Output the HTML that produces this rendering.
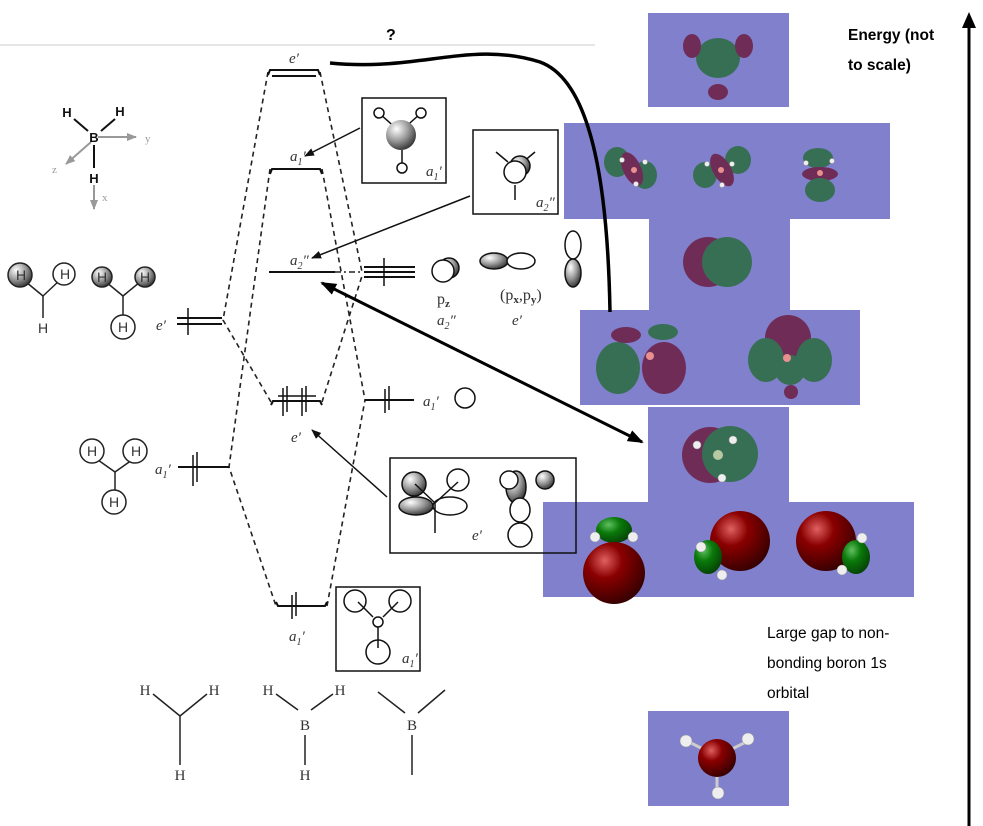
<!DOCTYPE html>
<html><head><meta charset="utf-8"><style>
html,body{margin:0;padding:0;background:#fff;}
svg{display:block;}
.it{font-family:"Liberation Serif",serif;font-style:italic;fill:#333;}
.rm{font-family:"Liberation Serif",serif;fill:#333;}
.ss{font-family:"Liberation Sans",sans-serif;}
</style></head><body>
<svg width="983" height="826" viewBox="0 0 983 826" xmlns="http://www.w3.org/2000/svg">
<defs>
<radialGradient id="gs" cx="0.35" cy="0.3" r="0.8"><stop offset="0" stop-color="#fff"/><stop offset="0.5" stop-color="#999"/><stop offset="1" stop-color="#222"/></radialGradient>
<radialGradient id="red" cx="0.35" cy="0.3" r="0.8"><stop offset="0" stop-color="#e06060"/><stop offset="0.35" stop-color="#8a0000"/><stop offset="1" stop-color="#2a0000"/></radialGradient>
<radialGradient id="grn" cx="0.35" cy="0.3" r="0.8"><stop offset="0" stop-color="#60c060"/><stop offset="0.4" stop-color="#0a7a0a"/><stop offset="1" stop-color="#053a05"/></radialGradient>
<marker id="ah" markerWidth="10" markerHeight="8" refX="9" refY="4" orient="auto" markerUnits="userSpaceOnUse"><path d="M0,0 L10,4 L0,8 z" fill="#111"/></marker>
<marker id="ahb" markerWidth="16" markerHeight="12" refX="14" refY="6" orient="auto-start-reverse" markerUnits="userSpaceOnUse"><path d="M0,0 L16,6 L0,12 z" fill="#000"/></marker>
<marker id="ahg" markerWidth="10" markerHeight="8" refX="9" refY="4" orient="auto" markerUnits="userSpaceOnUse"><path d="M0,0 L10,4 L0,8 z" fill="#999"/></marker>
</defs>

<line x1="0" y1="45" x2="595" y2="45" stroke="#ddd" stroke-width="1.5"/>
<text x="386" y="40" class="ss" font-weight="bold" font-size="16">?</text>

<g fill="#8080cc">
<rect x="648" y="13" width="141" height="94"/>
<rect x="564" y="123" width="326" height="96"/>
<rect x="649" y="218" width="141" height="93"/>
<rect x="580" y="310" width="280" height="95"/>
<rect x="648" y="407" width="141" height="96"/>
<rect x="543" y="502" width="371" height="95"/>
<rect x="648" y="711" width="141" height="95"/>
</g>

<g opacity="0.75">
<ellipse cx="718" cy="58" rx="22" ry="20" fill="#1f6a2c"/>
<ellipse cx="692" cy="46" rx="9" ry="12" fill="#6a1030"/>
<ellipse cx="744" cy="46" rx="9" ry="12" fill="#6a1030"/>
<ellipse cx="718" cy="92" rx="10" ry="8" fill="#6a1030"/>
<ellipse cx="617" cy="162" rx="13" ry="15" fill="#1f6a2c"/>
<ellipse cx="645" cy="175" rx="12" ry="14" fill="#1f6a2c"/>
<ellipse cx="632" cy="169" rx="9" ry="18" fill="#6a1030" transform="rotate(-25 632 169)"/>
<ellipse cx="705" cy="175" rx="12" ry="13" fill="#1f6a2c"/>
<ellipse cx="738" cy="160" rx="13" ry="14" fill="#1f6a2c"/>
<ellipse cx="722" cy="170" rx="9" ry="18" fill="#6a1030" transform="rotate(-30 722 170)"/>
<ellipse cx="818" cy="158" rx="15" ry="10" fill="#1f6a2c"/>
<ellipse cx="820" cy="174" rx="18" ry="7" fill="#6a1030"/>
<ellipse cx="820" cy="190" rx="15" ry="12" fill="#1f6a2c"/>
<circle cx="708" cy="262" r="25" fill="#6a1030"/>
<ellipse cx="727" cy="262" rx="25" ry="25" fill="#1f6a2c"/>
<ellipse cx="618" cy="368" rx="22" ry="26" fill="#1f6a2c"/>
<ellipse cx="664" cy="368" rx="22" ry="26" fill="#6a1030"/>
<ellipse cx="626" cy="335" rx="15" ry="8" fill="#6a1030"/>
<ellipse cx="663" cy="332" rx="15" ry="8" fill="#1f6a2c"/>
<circle cx="788" cy="338" r="23" fill="#6a1030"/>
<ellipse cx="766" cy="360" rx="18" ry="22" fill="#1f6a2c"/>
<ellipse cx="814" cy="360" rx="18" ry="22" fill="#1f6a2c"/>
<ellipse cx="790" cy="370" rx="15" ry="15" fill="#1f6a2c"/>
<circle cx="791" cy="392" r="7" fill="#6a1030"/>
<circle cx="710" cy="455" r="28" fill="#6a1030"/>
<circle cx="730" cy="454" r="28" fill="#1f6a2c"/>
</g>
<g>
<ellipse cx="614" cy="530" rx="18" ry="13" fill="url(#grn)"/>
<circle cx="614" cy="573" r="31" fill="url(#red)"/>
<circle cx="740" cy="541" r="30" fill="url(#red)"/>
<ellipse cx="708" cy="557" rx="14" ry="17" fill="url(#grn)"/>
<circle cx="826" cy="541" r="30" fill="url(#red)"/>
<ellipse cx="856" cy="557" rx="14" ry="17" fill="url(#grn)"/>
<line x1="687" y1="741" x2="715" y2="755" stroke="#ccc" stroke-width="3"/>
<line x1="748" y1="741" x2="720" y2="755" stroke="#ccc" stroke-width="3"/>
<line x1="717" y1="792" x2="717" y2="760" stroke="#ccc" stroke-width="3"/>
<circle cx="717" cy="758" r="19" fill="url(#red)"/>
</g>
<g fill="#eee" stroke="#999" stroke-width="0.5">
<circle cx="686" cy="741" r="6"/><circle cx="748" cy="739" r="6"/><circle cx="718" cy="793" r="6"/>
<circle cx="595" cy="537" r="5"/><circle cx="633" cy="537" r="5"/>
<circle cx="701" cy="547" r="5"/><circle cx="722" cy="575" r="5"/>
<circle cx="862" cy="538" r="5"/><circle cx="842" cy="570" r="5"/>
<circle cx="622" cy="160" r="2.5"/><circle cx="645" cy="162" r="2.5"/><circle cx="636" cy="184" r="2.5"/>
<circle cx="707" cy="164" r="2.5"/><circle cx="732" cy="164" r="2.5"/><circle cx="722" cy="185" r="2.5"/>
<circle cx="806" cy="163" r="2.5"/><circle cx="832" cy="161" r="2.5"/>
<circle cx="697" cy="445" r="4"/><circle cx="733" cy="440" r="4"/><circle cx="722" cy="478" r="4"/>
</g>
<g fill="#e89090"><circle cx="634" cy="170" r="3"/><circle cx="721" cy="170" r="3"/><circle cx="820" cy="173" r="3"/><circle cx="650" cy="356" r="4"/><circle cx="787" cy="358" r="4"/><circle cx="718" cy="455" r="5" fill="#b8c8a0"/></g>

<path d="M330,63 C420,72 470,40 540,62 C595,82 608,200 610,312" fill="none" stroke="#000" stroke-width="3.5"/>

<line x1="969" y1="826" x2="969" y2="26" stroke="#000" stroke-width="3"/>
<path d="M969,12 L962,28 L976,28 z" fill="#000"/>
<text x="848" y="40" class="ss" font-weight="bold" font-size="15.5">Energy (not</text>
<text x="848" y="70" class="ss" font-weight="bold" font-size="15.5">to scale)</text>
<text x="767" y="638" class="ss" font-size="15.5">Large gap to non-</text>
<text x="767" y="668" class="ss" font-size="15.5">bonding boron 1s</text>
<text x="767" y="698" class="ss" font-size="15.5">orbital</text>

<g stroke="#222" stroke-width="1.6" stroke-dasharray="5,4" fill="none">
<path d="M268,72 L223,320 L271,402"/>
<path d="M270,169 L229,467 L276,606"/>
<path d="M320,72 L362,272"/>
<path d="M322,169 L365,400"/>
<path d="M322,402 L362,276"/>
<path d="M327,606 L365,400"/>
</g>
<line x1="335" y1="272" x2="362" y2="272" stroke="#222" stroke-width="1.4" stroke-dasharray="6,3,2,3"/>

<g stroke="#111" stroke-width="2" fill="none">
<path d="M268,75 L270,70 L318,70 L320,75"/>
<line x1="272" y1="76" x2="316" y2="76"/>
<path d="M270,174 L272,169 L320,169 L322,174"/>
<line x1="269" y1="272" x2="335" y2="272"/>
<path d="M271,405 L273,401 L320,401 L322,405"/>
<path d="M276,602 L278,606 L325,606 L327,602"/>
<line x1="177" y1="318" x2="222" y2="318"/><line x1="177" y1="324" x2="222" y2="324"/>
<line x1="178" y1="467" x2="229" y2="467"/>
<line x1="364" y1="267" x2="415" y2="267"/><line x1="364" y1="272" x2="415" y2="272"/><line x1="364" y1="277" x2="415" y2="277"/>
<line x1="365" y1="400" x2="414" y2="400"/>
</g>
<g stroke="#111" stroke-width="1.5">
<line x1="188" y1="308" x2="188" y2="335"/>
<line x1="384" y1="258" x2="384" y2="286"/>
<line x1="193" y1="455" x2="193" y2="486"/><line x1="197" y1="452" x2="197" y2="482"/>
<line x1="283" y1="388" x2="283" y2="416"/><line x1="287" y1="386" x2="287" y2="412"/>
<line x1="302" y1="388" x2="302" y2="416"/><line x1="306" y1="386" x2="306" y2="412"/>
<line x1="385" y1="389" x2="385" y2="413"/><line x1="389" y1="386" x2="389" y2="410"/>
<line x1="292" y1="595" x2="292" y2="619"/><line x1="296" y1="592" x2="296" y2="616"/>
</g>
<line x1="278" y1="396" x2="316" y2="396" stroke="#111" stroke-width="1.5"/>

<g class="it" font-size="15">
<text x="289" y="63">e′</text>
<text x="290" y="161">a<tspan font-size="10" dy="4">1</tspan><tspan dy="-4">′</tspan></text>
<text x="290" y="265">a<tspan font-size="10" dy="4">2</tspan><tspan dy="-4">″</tspan></text>
<text x="291" y="442">e′</text>
<text x="289" y="641">a<tspan font-size="10" dy="4">1</tspan><tspan dy="-4">′</tspan></text>
<text x="156" y="330">e′</text>
<text x="155" y="474">a<tspan font-size="10" dy="4">1</tspan><tspan dy="-4">′</tspan></text>
<text x="423" y="406">a<tspan font-size="10" dy="4">1</tspan><tspan dy="-4">′</tspan></text>
<text x="437" y="325">a<tspan font-size="10" dy="4">2</tspan><tspan dy="-4">″</tspan></text>
<text x="512" y="325">e′</text>
<text x="426" y="176">a<tspan font-size="10" dy="4">1</tspan><tspan dy="-4">′</tspan></text>
<text x="536" y="207">a<tspan font-size="10" dy="4">2</tspan><tspan dy="-4">″</tspan></text>
<text x="472" y="540">e′</text>
<text x="402" y="663">a<tspan font-size="10" dy="4">1</tspan><tspan dy="-4">′</tspan></text>
</g>
<text x="437" y="304" class="rm" font-size="16">p<tspan font-size="11" dy="3" font-weight="bold">z</tspan></text>
<text x="500" y="300" class="rm" font-size="16">(p<tspan font-size="11" dy="3" font-weight="bold">x</tspan><tspan dy="-3">,p</tspan><tspan font-size="11" dy="3" font-weight="bold">y</tspan><tspan dy="-3">)</tspan></text>

<g stroke="#111" stroke-width="1.5" fill="none">
<rect x="362" y="98" width="84" height="85"/>
<rect x="473" y="130" width="85" height="84"/>
<rect x="390" y="458" width="186" height="95"/>
<rect x="336" y="587" width="84" height="84"/>
</g>
<g stroke="#111" stroke-width="1.5">
<line x1="380" y1="114" x2="398" y2="130"/><line x1="420" y1="114" x2="402" y2="130"/><line x1="402" y1="150" x2="402" y2="166"/>
<circle cx="379" cy="113" r="5" fill="#fff"/><circle cx="421" cy="113" r="5" fill="#fff"/><circle cx="402" cy="168" r="5" fill="#fff"/>
<circle cx="401" cy="135" r="15" fill="url(#gs)" stroke="none"/>
<line x1="496" y1="152" x2="508" y2="162"/><line x1="535" y1="152" x2="523" y2="162"/><line x1="515" y1="185" x2="515" y2="200"/>
<circle cx="520" cy="166" r="10" fill="url(#gs)"/><circle cx="515" cy="172" r="11" fill="#fff"/>
<circle cx="449" cy="268" r="10" fill="url(#gs)"/><circle cx="443" cy="271" r="11" fill="#fff"/>
<ellipse cx="494" cy="261" rx="14" ry="8" fill="url(#gs)"/><ellipse cx="521" cy="261" rx="14" ry="8" fill="#fff"/>
<ellipse cx="573" cy="245" rx="8" ry="14" fill="#fff"/><ellipse cx="573" cy="273" rx="8" ry="14" fill="url(#gs)"/>
<circle cx="465" cy="398" r="10" fill="#fff"/>
<circle cx="414" cy="484" r="12" fill="url(#gs)"/><circle cx="458" cy="480" r="11" fill="#fff"/>
<ellipse cx="416" cy="506" rx="17" ry="9" fill="url(#gs)"/><ellipse cx="450" cy="506" rx="17" ry="9" fill="#fff"/>
<line x1="415" y1="484" x2="435" y2="503"/><line x1="458" y1="482" x2="435" y2="503"/><line x1="435" y1="503" x2="435" y2="533"/>
<ellipse cx="516" cy="487" rx="10" ry="16" fill="url(#gs)"/><circle cx="509" cy="480" r="9" fill="#fff"/><circle cx="545" cy="480" r="9" fill="url(#gs)"/>
<ellipse cx="520" cy="510" rx="10" ry="12" fill="#fff"/><circle cx="520" cy="535" r="12" fill="#fff"/>
<line x1="358" y1="602" x2="373" y2="617"/><line x1="398" y1="602" x2="383" y2="617"/><line x1="378" y1="627" x2="378" y2="648"/>
<circle cx="355" cy="601" r="11" fill="none"/><circle cx="400" cy="601" r="11" fill="none"/>
<circle cx="378" cy="622" r="5" fill="#fff"/><circle cx="378" cy="652" r="12" fill="none"/>
</g>

<g stroke="#111" stroke-width="1.5" fill="none">
<line x1="360" y1="128" x2="305" y2="156" marker-end="url(#ah)"/>
<line x1="470" y1="196" x2="312" y2="258" marker-end="url(#ah)"/>
<line x1="387" y1="497" x2="312" y2="430" marker-end="url(#ah)"/>
</g>
<line x1="322" y1="283" x2="642" y2="442" stroke="#000" stroke-width="3" marker-start="url(#ahb)" marker-end="url(#ahb)"/>

<g stroke="#222" stroke-width="1.5">
<line x1="26" y1="282" x2="43" y2="296"/><line x1="60" y1="280" x2="43" y2="296"/><line x1="43" y1="296" x2="43" y2="318"/>
<circle cx="20" cy="275" r="12" fill="url(#gs)"/><circle cx="64" cy="274" r="11" fill="#fff"/>
<line x1="106" y1="282" x2="123" y2="296"/><line x1="140" y1="282" x2="123" y2="296"/><line x1="123" y1="296" x2="123" y2="316"/>
<circle cx="102" cy="277" r="10" fill="url(#gs)"/><circle cx="145" cy="277" r="10" fill="url(#gs)"/><circle cx="123" cy="327" r="12" fill="#fff"/>
<line x1="98" y1="460" x2="115" y2="472"/><line x1="132" y1="460" x2="115" y2="472"/><line x1="115" y1="472" x2="115" y2="492"/>
<circle cx="92" cy="451" r="12" fill="#fff"/><circle cx="135" cy="451" r="12" fill="#fff"/><circle cx="114" cy="502" r="12" fill="#fff"/>
</g>
<g font-family="Liberation Sans,sans-serif" font-size="14" fill="#333" text-anchor="middle">
<text x="21" y="280">H</text><text x="65" y="279">H</text><text x="43" y="333">H</text>
<text x="102" y="282">H</text><text x="145" y="282">H</text><text x="123" y="332">H</text>
<text x="92" y="456">H</text><text x="136" y="456">H</text><text x="114" y="507">H</text>
</g>

<g stroke="#999" stroke-width="2">
<line x1="98" y1="137" x2="136" y2="137" marker-end="url(#ahg)"/>
<line x1="91" y1="142" x2="66" y2="164" marker-end="url(#ahg)"/>
<line x1="94" y1="185" x2="94" y2="209" marker-end="url(#ahg)"/>
</g>
<g stroke="#111" stroke-width="2">
<line x1="74" y1="119" x2="88" y2="131"/><line x1="115" y1="119" x2="101" y2="131"/><line x1="94" y1="145" x2="94" y2="168"/>
</g>
<g font-family="Liberation Sans,sans-serif" font-weight="bold" font-size="13" fill="#111" text-anchor="middle">
<text x="67" y="117">H</text><text x="120" y="116">H</text><text x="94" y="142">B</text><text x="94" y="183">H</text>
</g>
<g font-family="Liberation Serif,serif" font-size="11" fill="#999">
<text x="145" y="142">y</text><text x="52" y="173">z</text><text x="102" y="201">x</text>
</g>

<g stroke="#222" stroke-width="1.5">
<line x1="153" y1="694" x2="180" y2="716"/><line x1="207" y1="694" x2="180" y2="716"/><line x1="180" y1="716" x2="180" y2="765"/>
<line x1="276" y1="694" x2="298" y2="710"/><line x1="333" y1="694" x2="311" y2="710"/><line x1="305" y1="735" x2="305" y2="765"/>
<line x1="378" y1="692" x2="405" y2="713"/><line x1="445" y1="690" x2="418" y2="713"/><line x1="412" y1="735" x2="412" y2="775"/>
</g>
<g font-family="Liberation Serif,serif" font-size="15" fill="#333" text-anchor="middle">
<text x="145" y="695">H</text><text x="214" y="695">H</text><text x="180" y="780">H</text>
<text x="268" y="695">H</text><text x="340" y="695">H</text><text x="305" y="730">B</text><text x="305" y="780">H</text>
<text x="412" y="730">B</text>
</g>
</svg>
</body></html>
